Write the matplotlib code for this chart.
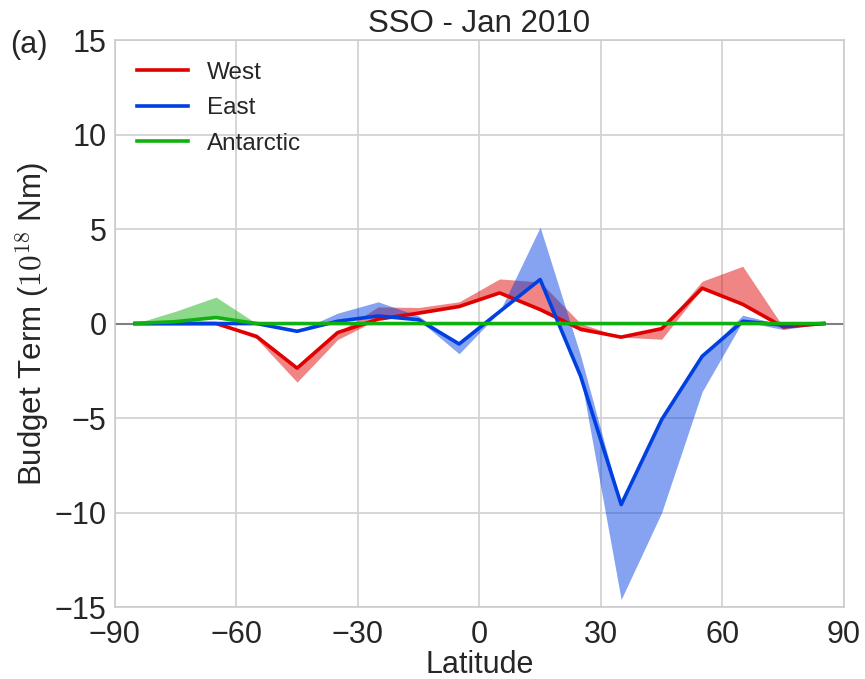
import numpy as np
import matplotlib
matplotlib.use("Agg")
import matplotlib.pyplot as plt

plt.rcParams['font.family'] = ['Liberation Sans', 'DejaVu Sans']
plt.rcParams['mathtext.fontset'] = 'cm'

lat = [-85, -75, -65, -55, -45, -35, -25, -15, -5, 5, 15, 25, 35, 45, 55, 65, 75, 85]

west = [0, 0, 0, -0.68, -2.36, -0.48, 0.23, 0.55, 0.9, 1.62, 0.74, -0.3, -0.72, -0.27, 1.87, 1.02, -0.18, 0]
west_lo = [0, 0, 0, -0.8, -3.1, -0.85, 0.23, 0.55, 0.9, 1.62, 0.74, -0.4, -0.72, -0.83, 1.87, 1.02, -0.25, 0]
west_hi = [0, 0, 0, -0.68, -2.36, -0.48, 0.88, 0.85, 1.15, 2.36, 2.2, 0.0, -0.72, -0.27, 2.24, 3.03, -0.18, 0]

east = [0, 0, 0, 0, -0.41, 0.12, 0.4, 0.2, -1.08, 0.63, 2.33, -2.79, -9.58, -5.08, -1.73, 0.12, -0.08, 0]
east_lo = [0, 0, 0, 0, -0.41, 0.12, 0.4, 0.2, -1.6, 0.63, 2.33, -2.79, -14.6, -10.0, -3.6, 0.12, -0.32, 0]
east_hi = [0, 0, 0, 0, -0.41, 0.55, 1.15, 0.4, -1.08, 0.63, 5.1, -1.7, -9.58, -5.08, -1.73, 0.44, -0.08, 0]

antarctic = [0, 0.1, 0.32, 0, 0, 0, 0, 0, 0, 0, 0, 0, 0, 0, 0, 0, 0, 0]
antarctic_hi = [0, 0.65, 1.4, 0, 0, 0, 0, 0, 0, 0, 0, 0, 0, 0, 0, 0, 0, 0]

red, blue, green = '#e00000', '#0040e0', '#10b010'
text_c = '#262626'

fig = plt.figure(figsize=(8.65, 6.79), dpi=100)
ax = fig.add_axes([0.1327, 0.106, 0.843, 0.835])
ax.set_facecolor('white')

ax.axhline(0, color='#808080', lw=1.5, zorder=1)

ax.fill_between(lat, west_lo, west_hi, color=red, alpha=0.48, lw=0, zorder=2)
ax.fill_between(lat, east_lo, east_hi, color=blue, alpha=0.48, lw=0, zorder=2)
ax.fill_between(lat, antarctic, antarctic_hi, color=green, alpha=0.48, lw=0, zorder=2)

ax.plot(lat, west, color=red, lw=2.6, label='West', zorder=3)
ax.plot(lat, east, color=blue, lw=2.6, label='East', zorder=3)
ax.plot(lat, antarctic, color=green, lw=2.6, label='Antarctic', zorder=4)

ax.set_xlim(-90, 90)
ax.set_ylim(-15, 15)
ax.set_xticks(np.arange(-90, 91, 30))
ax.set_yticks(np.arange(-15, 16, 5))
ax.grid(True, color='#d0d0d0', lw=1.2)
ax.set_axisbelow(True)
for sp in ax.spines.values():
    sp.set_color('#cccccc')
    sp.set_linewidth(1.2)
ax.tick_params(length=0, labelsize=22, colors=text_c)
ax.tick_params(axis='x', pad=9)
ax.tick_params(axis='y', pad=6)

ax.set_title('SSO - Jan 2010', fontsize=22.5, color=text_c, pad=6)
ax.set_xlabel('Latitude', fontsize=22, color=text_c, labelpad=0)
ax.set_ylabel(r'Budget Term ($10^{18}$ Nm)', fontsize=22.5, color=text_c, labelpad=2)

leg = ax.legend(loc='upper left', frameon=False, fontsize=17.5, handlelength=2.1,
                handletextpad=0.8, labelspacing=0.55, borderaxespad=0.5)
for t in leg.get_texts():
    t.set_color(text_c)

fig.text(0.012, 0.922, '(a)', fontsize=22, color=text_c)

fig.savefig('out.png', dpi=100)
